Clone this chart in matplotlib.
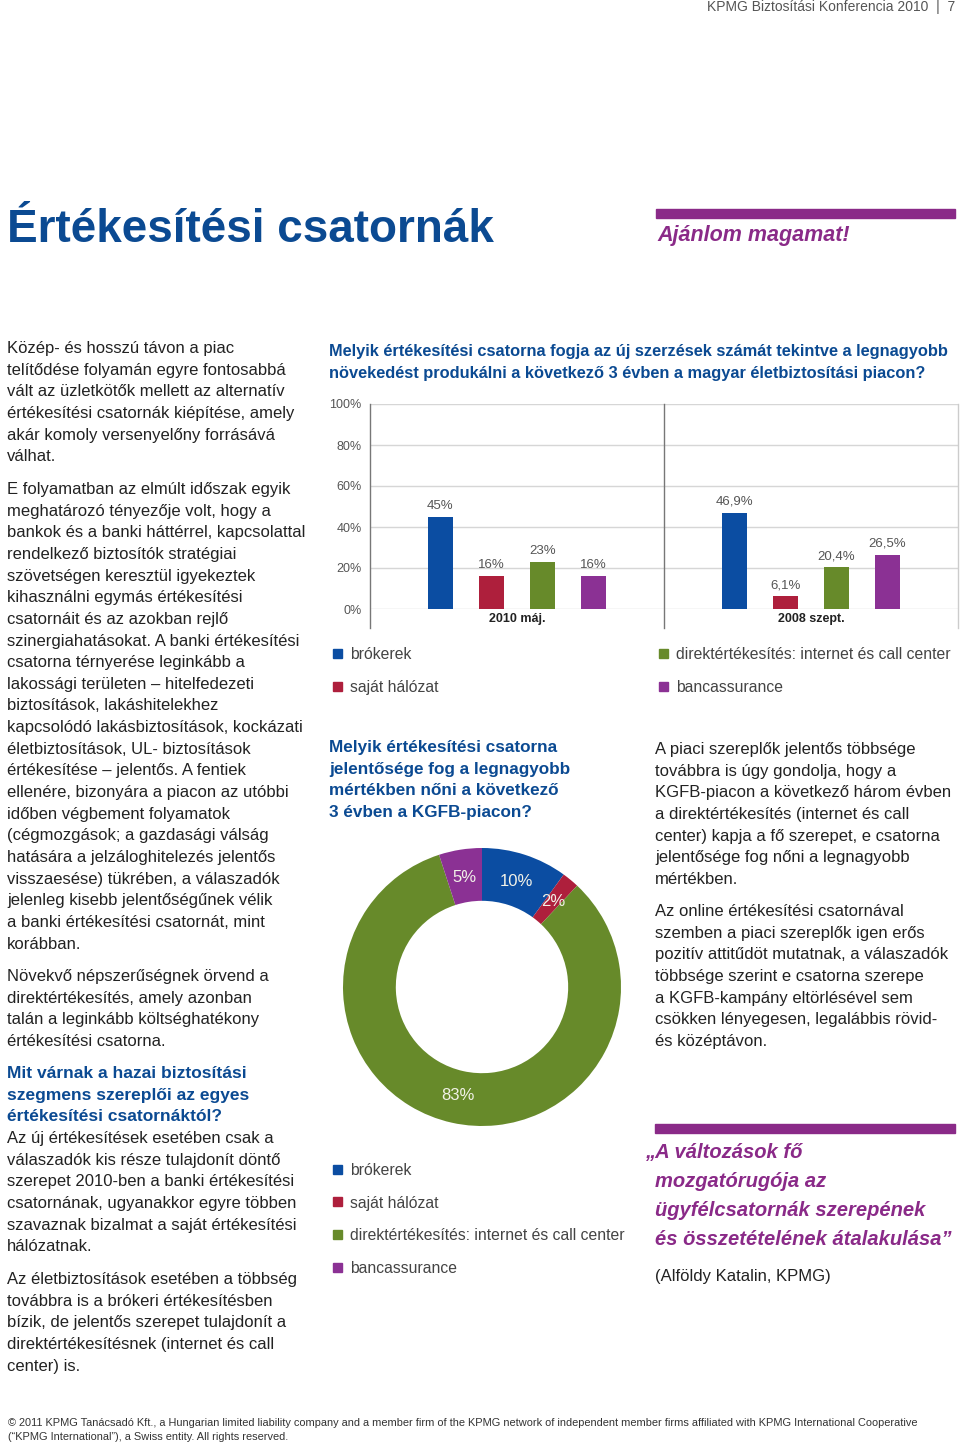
import matplotlib.pyplot as plt
from matplotlib.patches import Rectangle

plt.rcParams['font.family'] = ['Liberation Sans', 'DejaVu Sans']

# chart data
channels = ['brókerek', 'saját hálózat', 'direktértékesítés: internet és call center', 'bancassurance']
channel_colors = ['#0B4DA2', '#AE1F3C', '#678A2A', '#8B3194']
survey_dates = ['2010 máj.', '2008 szept.']
life_2010 = [45, 16, 23, 16]
life_2008 = [46.9, 6.1, 20.4, 26.5]
kgfb_share = [10, 2, 83, 5]
y_ticks = [0, 20, 40, 60, 80, 100]

# page text
header = 'KPMG Biztosítási Konferencia 2010  |  7'
page_title = 'Értékesítési csatornák'
tagline = 'Ajánlom magamat!'
bar_title = ['Melyik értékesítési csatorna fogja az új szerzések számát tekintve a legnagyobb',
             'növekedést produkálni a következő 3 évben a magyar életbiztosítási piacon?']
donut_title = ['Melyik értékesítési csatorna', 'jelentősége fog a legnagyobb',
               'mértékben nőni a következő', '3 évben a KGFB-piacon?']
left_p1 = ['Közép- és hosszú távon a piac', 'telítődése folyamán egyre fontosabbá',
           'vált az üzletkötők mellett az alternatív', 'értékesítési csatornák kiépítése, amely',
           'akár komoly versenyelőny forrásává', 'válhat.']
left_p2 = ['E folyamatban az elmúlt időszak egyik', 'meghatározó tényezője volt, hogy a',
           'bankok és a banki háttérrel, kapcsolattal', 'rendelkező biztosítók stratégiai',
           'szövetségen keresztül igyekeztek', 'kihasználni egymás értékesítési',
           'csatornáit és az azokban rejlő', 'szinergiahatásokat. A banki értékesítési',
           'csatorna térnyerése leginkább a', 'lakossági területen – hitelfedezeti',
           'biztosítások, lakáshitelekhez', 'kapcsolódó lakásbiztosítások, kockázati',
           'életbiztosítások, UL- biztosítások', 'értékesítése – jelentős. A fentiek',
           'ellenére, bizonyára a piacon az utóbbi', 'időben végbement folyamatok',
           '(cégmozgások; a gazdasági válság', 'hatására a jelzáloghitelezés jelentős',
           'visszaesése) tükrében, a válaszadók', 'jelenleg kisebb jelentőségűnek vélik',
           'a banki értékesítési csatornát, mint', 'korábban.']
left_p3 = ['Növekvő népszerűségnek örvend a', 'direktértékesítés, amely azonban',
           'talán a leginkább költséghatékony', 'értékesítési csatorna.']
left_head = ['Mit várnak a hazai biztosítási', 'szegmens szereplői az egyes',
             'értékesítési csatornáktól?']
left_p4 = ['Az új értékesítések esetében csak a', 'válaszadók kis része tulajdonít döntő',
           'szerepet 2010-ben a banki értékesítési', 'csatornának, ugyanakkor egyre többen',
           'szavaznak bizalmat a saját értékesítési', 'hálózatnak.']
left_p5 = ['Az életbiztosítások esetében a többség', 'továbbra is a brókeri értékesítésben',
           'bízik, de jelentős szerepet tulajdonít a', 'direktértékesítésnek (internet és call',
           'center) is.']
right_p1 = ['A piaci szereplők jelentős többsége', 'továbbra is úgy gondolja, hogy a',
            'KGFB-piacon a következő három évben', 'a direktértékesítés (internet és call',
            'center) kapja a fő szerepet, e csatorna', 'jelentősége fog nőni a legnagyobb',
            'mértékben.']
right_p2 = ['Az online értékesítési csatornával', 'szemben a piaci szereplők igen erős',
            'pozitív attitűdöt mutatnak, a válaszadók', 'többsége szerint e csatorna szerepe',
            'a KGFB-kampány eltörlésével sem', 'csökken lényegesen, legalábbis rövid-',
            'és középtávon.']
quote = ['„A változások fő', 'mozgatórugója az', 'ügyfélcsatornák szerepének',
         'és összetételének átalakulása”']
quote_by = '(Alföldy Katalin, KPMG)'
footer = ['© 2011 KPMG Tanácsadó Kft., a Hungarian limited liability company and a member firm of the KPMG '
          'network of independent member firms affiliated with KPMG International Cooperative',
          '(“KPMG International”), a Swiss entity. All rights reserved.']

BLUE = '#0B4A92'
PURPLE = '#8A2A88'
TEXT = '#222222'
W, H = 960, 1445

fig = plt.figure(figsize=(W / 100, H / 100), dpi=100)


def put(x, y, s, **kw):
    # y is the visual middle of the line, measured from the top of the page
    fig.text(x / W, 1 - (y + 1.5) / H, s, va='center', **kw)


def block(x, y0, lines, step=21.65, **kw):
    for i, s in enumerate(lines):
        put(x, y0 + i * step, s, **kw)


def rect(x0, y0, x1, y1):
    return [x0 / W, 1 - y1 / H, (x1 - x0) / W, (y1 - y0) / H]


def square(x, y, color, size=9):
    fig.patches.append(Rectangle((x / W, 1 - (y + size / 2) / H), size / W, size / H,
                                 transform=fig.transFigure, color=color))


def pct(v):
    return f'{v:g}'.replace('.', ',') + '%'


body = dict(fontsize=12, color=TEXT)
head = dict(fontsize=12.5, color=BLUE, fontweight='bold')
legend_style = dict(fontsize=11.3, color='#444444')

# header and title
put(955, 6, header, ha='right', fontsize=10, color='#555555')
put(7, 228, page_title, fontsize=33, fontweight='bold', color=BLUE)
fig.patches.append(Rectangle((656 / W, 1 - 218 / H), 299 / W, 9 / H,
                             transform=fig.transFigure, color=PURPLE))
put(657, 234, tagline, fontsize=15.5, fontweight='bold', fontstyle='italic', color=PURPLE)

# left column
block(7, 347, left_p1, **body)
block(7, 488, left_p2, **body)
block(7, 975, left_p3, **body)
block(7, 1072, left_head, **head)
block(7, 1137, left_p4, **body)
block(7, 1278, left_p5, **body)

# bar chart
block(329, 350, bar_title, step=22, fontsize=11.8, fontweight='bold', color=BLUE)
ax = fig.add_axes(rect(370, 404, 958, 609))
offsets = [-1.5, -0.5, 0.5, 1.5]
step_x = 0.1735
for g, vals in enumerate([life_2010, life_2008]):
    for k, v in enumerate(vals):
        xc = g + 0.5 + offsets[k] * step_x
        ax.bar(xc, v, width=0.087, color=channel_colors[k], zorder=3)
        ax.text(xc, v + 2.5, pct(v), ha='center', va='bottom', fontsize=9.5, color='#555555')
for y in y_ticks:
    ax.axhline(y, color='#d6d6d6', lw=1, zorder=0)
for xv, c in [(0, '#777777'), (1, '#777777'), (2, '#cccccc')]:
    ax.plot([xv, xv], [-9.5, 100], color=c, lw=1, clip_on=False)
ax.set_xlim(0, 2)
ax.set_ylim(0, 100)
ax.set_yticks(y_ticks, [f'{v}%' for v in y_ticks])
ax.set_xticks([0.5, 1.5], survey_dates)
ax.tick_params(axis='y', length=0, pad=6, labelsize=9, labelcolor='#555555')
ax.tick_params(axis='x', length=0, pad=3, labelsize=9, labelcolor=TEXT)
for lab in ax.get_xticklabels():
    lab.set_fontweight('bold')
for sp in ax.spines.values():
    sp.set_visible(False)

# bar legend
leg_pos = [(333, 653), (333, 686), (659, 653), (659, 686)]
for (lx, ly), name, c in zip(leg_pos, channels, channel_colors):
    square(lx, ly, c)
    put(lx + 17, ly, name, **legend_style)

# donut chart
block(329, 746, donut_title, step=21.7, fontsize=12.3, fontweight='bold', color=BLUE)
ax2 = fig.add_axes(rect(343, 848, 621, 1126))
wedges, _, autotexts = ax2.pie(kgfb_share, colors=channel_colors, startangle=90, counterclock=False,
                               autopct=lambda p: f'{p:.0f}%', pctdistance=0.8,
                               wedgeprops=dict(width=0.38, linewidth=0))
for t in autotexts:
    t.set_color('#f2f2e8')
    t.set_fontsize(12)
ax2.set_xlim(-1, 1)
ax2.set_ylim(-1, 1)
ax2.set_aspect('equal')

for i, (name, c) in enumerate(zip(channels, channel_colors)):
    square(333, 1169 + i * 32.7, c)
    put(350, 1169 + i * 32.7, name, **legend_style)

# right column
block(655, 748, right_p1, **body)
block(655, 910, right_p2, **body)
fig.patches.append(Rectangle((655 / W, 1 - 1133 / H), 300 / W, 9 / H,
                             transform=fig.transFigure, color=PURPLE))
quote_style = dict(fontsize=14.5, fontweight='bold', fontstyle='italic', color=PURPLE)
put(645, 1151, quote[0], **quote_style)
block(655, 1180, quote[1:], step=29, **quote_style)
put(655, 1275, quote_by, fontsize=12, color=TEXT)

# footer
block(8, 1421, footer, step=15, fontsize=7.9, color='#333333')

fig.savefig('out.png', dpi=100)
